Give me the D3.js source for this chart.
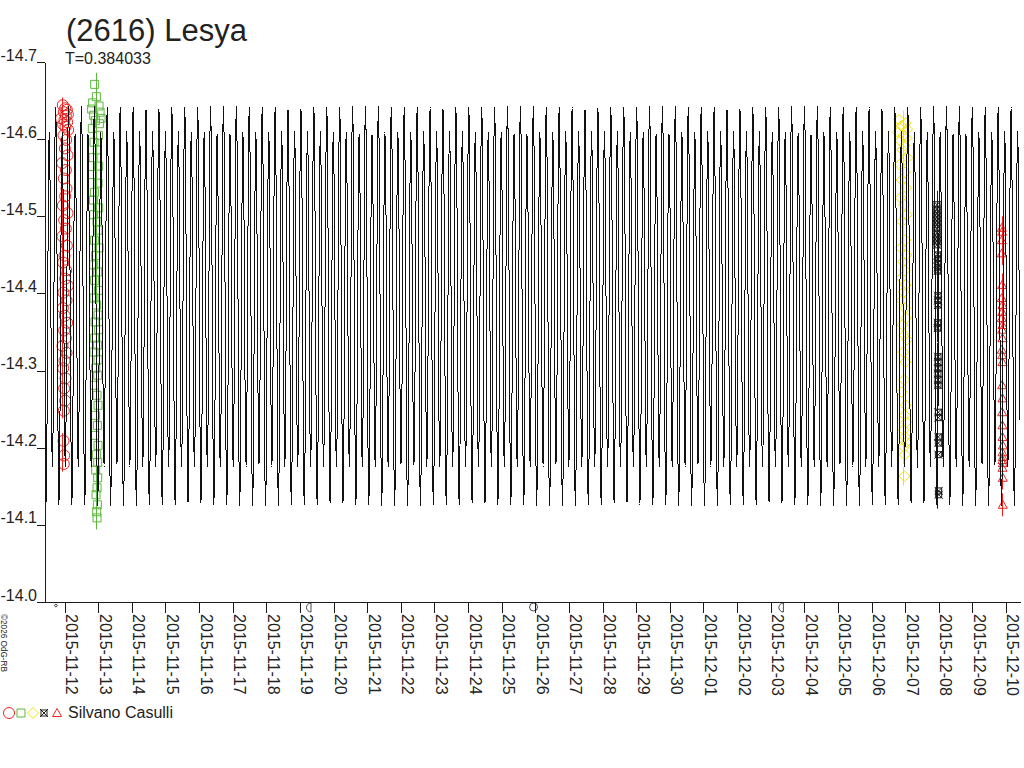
<!DOCTYPE html>
<html><head><meta charset="utf-8">
<script src="https://cdn.jsdelivr.net/npm/d3@7"></script>
<style>
body{margin:0;background:#fff}
svg{display:block}
text{font-family:"Liberation Sans",Arial,sans-serif;fill:#222}
</style>
</head><body>
<svg id="chart" width="1024" height="768"></svg>
<script>
// ---------------- data ----------------
const titleText = "(2616) Lesya";
const periodText = "T=0.384033";
const observerText = "Silvano Casulli";
const copyrightText = "\u00A92026 OdG-RB";

const PERIOD = 0.384033;                 // days
const EPOCH = "2015-11-19T00:44:00Z";    // time of the brighter maximum
const timeDomain = ["2015-11-11T10:00:00Z", "2015-12-10T10:00:00Z"];

// magnitude of the fitted lightcurve over one rotation (24 steps of phase)
const phaseMag = [-14.642,-14.606,-14.515,-14.386,-14.258,-14.163,-14.125,-14.153,
                  -14.238,-14.358,-14.480,-14.572,-14.610,-14.585,-14.505,-14.394,
                  -14.282,-14.201,-14.175,-14.212,-14.302,-14.422,-14.540,-14.618];

const dateTicks = ["2015-11-12","2015-11-13","2015-11-14","2015-11-15","2015-11-16","2015-11-17",
  "2015-11-18","2015-11-19","2015-11-20","2015-11-21","2015-11-22","2015-11-23","2015-11-24",
  "2015-11-25","2015-11-26","2015-11-27","2015-11-28","2015-11-29","2015-11-30","2015-12-01",
  "2015-12-02","2015-12-03","2015-12-04","2015-12-05","2015-12-06","2015-12-07","2015-12-08",
  "2015-12-09","2015-12-10"];
const magTicks = [-14.7,-14.6,-14.5,-14.4,-14.3,-14.2,-14.1,-14.0];

const moonTimes = ["2015-11-11T17:47:00Z","2015-11-19T06:27:00Z","2015-11-25T22:44:00Z","2015-12-03T07:40:00Z"];
const moonPhases = ["new","first","full","last"];

// session 1 : red circles
const s1Time = "2015-11-11T22:00:00Z";
const s1Offset = [0.03,0.10,0.15,0.06,0.18,0.12,-0.02,0.08,0.16,0.04,
                  0.11,0.19,0.05,0.13,0.09,0.17,0.01,0.12,0.06,0.14,
                  0.10,0.03,0.17,0.07,0.12,0.02,0.15,0.08,0.04,0.13,
                  0.10,0.18,0.05,0.14,0.03,0.09,0.16,0.07,0.12,0.02,
                  0.14,0.08,0.04,0.11,0.07,0.10,0.06,0.05,0.07,0.06];
const s1Mag = [-14.644,-14.640,-14.638,-14.635,-14.632,-14.630,-14.627,-14.625,-14.622,-14.619,
               -14.616,-14.612,-14.605,-14.599,-14.588,-14.579,-14.569,-14.560,-14.549,-14.536,
               -14.526,-14.514,-14.504,-14.495,-14.484,-14.474,-14.462,-14.449,-14.440,-14.430,
               -14.419,-14.410,-14.401,-14.391,-14.381,-14.371,-14.362,-14.352,-14.342,-14.332,
               -14.323,-14.313,-14.303,-14.290,-14.277,-14.261,-14.248,-14.209,-14.190,-14.179];
const s1Err = 0.01;

// session 2 : green squares
const s2Time = "2015-11-12T22:40:00Z";
const s2Offset = [-0.05,0.00,-0.11,0.08,-0.14,0.11,-0.08,0.14,-0.03,0.09,
                  -0.12,0.06,-0.07,0.03,-0.10,0.07,-0.13,0.05,-0.06,-0.09,
                  0.07,-0.08,0.02,0.05,-0.06,0.08,-0.02,-0.08,0.04,-0.05,
                  0.06,-0.07,0.01,0.05,-0.04,0.07,-0.05,0.03,-0.07,0.05,
                  -0.02,0.04,-0.06,0.02,0.05,-0.03,0.03,-0.05,0.05,0.00,
                  0.04,-0.02,0.04,0.02,-0.01,0.03,0.01,0.02];
const s2Mag = [-14.671,-14.655,-14.647,-14.643,-14.639,-14.635,-14.631,-14.627,-14.624,-14.620,
               -14.614,-14.605,-14.596,-14.586,-14.576,-14.565,-14.554,-14.543,-14.531,-14.521,
               -14.511,-14.502,-14.493,-14.482,-14.469,-14.459,-14.449,-14.437,-14.428,-14.417,
               -14.404,-14.394,-14.385,-14.372,-14.363,-14.353,-14.342,-14.333,-14.324,-14.314,
               -14.303,-14.294,-14.281,-14.268,-14.255,-14.242,-14.229,-14.216,-14.203,-14.191,
               -14.181,-14.171,-14.161,-14.148,-14.139,-14.126,-14.117,-14.109];
const s2Err = 0.015;

// session 3 : yellow diamonds
const s3Time = "2015-12-06T22:30:00Z";
const s3Offset = [-0.12,0.08,-0.05,0.12,-0.15,0.02,0.10,-0.08,0.05,-0.02,
                  0.13,-0.10,0.06,-0.04,0.09,-0.07,0.03,0.11,-0.03,0.07,
                  -0.06,0.10,0.00,0.05,-0.05,0.08,0.02,-0.03,0.06,0.09,
                  -0.02,0.04,0.12,0.01,0.07,0.03,-0.04,0.08,0.05,0.10,
                  0.02,0.06,0.09,0.03,0.05,0.04];
const s3Mag = [-14.625,-14.621,-14.617,-14.613,-14.609,-14.605,-14.601,-14.598,-14.592,-14.586,
               -14.576,-14.567,-14.557,-14.547,-14.537,-14.524,-14.515,-14.502,-14.493,-14.469,
               -14.459,-14.450,-14.441,-14.430,-14.420,-14.411,-14.402,-14.391,-14.381,-14.368,
               -14.359,-14.346,-14.340,-14.324,-14.311,-14.288,-14.272,-14.255,-14.242,-14.233,
               -14.223,-14.214,-14.207,-14.201,-14.191,-14.163];
const s3Err = 0.012;

// session 4 : black crossed squares
const s4Time = "2015-12-07T22:45:00Z";
const s4Offset = [0,0,0,0,0,0,0,0,0,0,0,
                  0.02,0.02,0.02,0.02,0.02,0.03,0.03,0.03,0.02,0.02,
                  0.03,0.03,0.03,0.03,0.03,0.03,0.04,0.04,0.04,0.04,0.04,0.05,0.05];
const s4Mag = [-14.515,-14.509,-14.504,-14.499,-14.494,-14.489,-14.484,-14.478,-14.473,-14.468,-14.463,
               -14.450,-14.445,-14.439,-14.434,-14.429,-14.397,-14.391,-14.385,-14.362,-14.355,
               -14.318,-14.311,-14.303,-14.296,-14.288,-14.281,-14.246,-14.239,-14.214,-14.206,
               -14.191,-14.144,-14.139];
const s4Err = 0.018;

// session 5 : red triangles
const s5Time = "2015-12-09T21:00:00Z";
const s5Offset = [0,0.01,0,0,0.01,0,0.02,0.01,0,0.02,
                  0.01,0.02,0,0.01,0.02,0.01,0.02,0.01,0.02,0.02,
                  0.03,0.02,0.03,0.02,0.03,0.02,0.03,0.03];
const s5Mag = [-14.485,-14.480,-14.469,-14.452,-14.411,-14.394,-14.385,-14.376,-14.368,-14.359,
               -14.353,-14.342,-14.327,-14.320,-14.311,-14.281,-14.264,-14.246,-14.229,-14.214,
               -14.203,-14.194,-14.188,-14.184,-14.180,-14.174,-14.161,-14.126];
const s5Err = 0.015;

// ---------------- drawing ----------------
const DAY = 86400000;
const svg = d3.select("#chart");
const x = d3.scaleUtc().domain(timeDomain.map(d => new Date(d))).range([45, 1020]);
const y = d3.scaleLinear().domain([-14.7, -14.0]).range([62, 602]);

const RED = "#ee2222", GREEN = "#5cb83c", YELLOW = "#f2e400", BLACK = "#1a1a1a";

// symbol generators (centered at 0,0)
function circleSym(p){ p.moveTo(5.5,0); p.arc(0,0,5.5,0,2*Math.PI); }
function squareSym(p){ p.rect(-4,-4,8,8); }
function diamondSym(p){ p.moveTo(0,-5.5); p.lineTo(5.5,0); p.lineTo(0,5.5); p.lineTo(-5.5,0); p.closePath(); }
function crossSym(p){ p.rect(-3,-3,6,6); p.moveTo(-4,-4); p.lineTo(4,4); p.moveTo(4,-4); p.lineTo(-4,4); }
function triangleSym(p){ p.moveTo(0,-4.5); p.lineTo(4.5,3.5); p.lineTo(-4.5,3.5); p.closePath(); }
function symPath(fn){ const p = d3.path(); fn(p); return p.toString(); }

// axes
const fmtLocale = d3.formatLocale({decimal:".", thousands:",", grouping:[3], currency:["",""], minus:"-"});
const yAxis = d3.axisLeft(y).tickValues(magTicks).tickSize(8).tickSizeOuter(0).tickFormat(fmtLocale.format(".1f"));
const gy = svg.append("g").attr("transform","translate(45,0)").call(yAxis);
gy.attr("font-size",16).attr("font-family",null);
gy.selectAll("path,line").attr("stroke",BLACK).attr("shape-rendering","crispEdges");
gy.selectAll("text").attr("x",-8).attr("dy",-2).attr("fill","#222");

const xAxis = d3.axisBottom(x).tickValues(dateTicks.map(d => new Date(d+"T00:00:00Z")))
  .tickSize(11).tickSizeOuter(0).tickFormat(d3.utcFormat("%Y-%m-%d"));
const gx = svg.append("g").attr("transform","translate(0,602)").call(xAxis);
gx.attr("font-size",16).attr("font-family",null);
gx.selectAll("path,line").attr("stroke",BLACK).attr("shape-rendering","crispEdges");
gx.selectAll("text").attr("transform","rotate(90)").attr("x",12).attr("y",-1).attr("dy",0)
  .style("text-anchor","start").attr("fill","#222");
svg.append("line").attr("x1",37).attr("x2",45).attr("y1",602.5).attr("y2",602.5)
  .attr("stroke",BLACK).attr("shape-rendering","crispEdges");

// moon phases on the time axis
const moonG = svg.append("g").attr("fill","none").attr("stroke",BLACK).attr("stroke-width",0.8);
d3.zip(moonTimes, moonPhases).forEach(([t, ph]) => {
  const cx = x(new Date(t));
  if (ph === "new") moonG.append("circle").attr("cx",cx).attr("cy",605.5).attr("r",1.3);
  else if (ph === "full") moonG.append("circle").attr("cx",cx).attr("cy",607).attr("r",4);
  else {
    const p = d3.path(); p.moveTo(cx+2,603); p.arc(cx+2,607.5,4.5,-Math.PI/2,Math.PI/2,true); p.closePath();
    moonG.append("path").attr("d",p.toString());
  }
});

// observation sessions
function drawSession(tRef, offsets, mags, err, color, fn){
  const t0 = new Date(tRef).getTime();
  const g = svg.append("g").attr("fill","none").attr("stroke",color).attr("stroke-width",1);
  const pts = d3.zip(offsets, mags).map(([o,m]) => ({t:new Date(t0 + o*DAY), m}));
  const xe = Math.round(x(new Date(t0))) + 0.5;
  g.selectAll("line.err").data(pts).join("line").attr("class","err")
    .attr("x1",xe).attr("x2",xe).attr("y1",d => y(d.m - err)).attr("y2",d => y(d.m + err));
  const sp = symPath(fn);
  g.selectAll("path.sym").data(pts).join("path").attr("class","sym").attr("d",sp)
    .attr("transform",d => `translate(${x(d.t)},${y(d.m)})`);
}
drawSession(s1Time, s1Offset, s1Mag, s1Err, RED, circleSym);
drawSession(s2Time, s2Offset, s2Mag, s2Err, GREEN, squareSym);
drawSession(s3Time, s3Offset, s3Mag, s3Err, YELLOW, diamondSym);
drawSession(s4Time, s4Offset, s4Mag, s4Err, BLACK, crossSym);
drawSession(s5Time, s5Offset, s5Mag, s5Err, RED, triangleSym);

// lightcurve model repeated over the time span
const ep = new Date(EPOCH).getTime();
const [tA, tB] = x.domain().map(d => d.getTime());
const kStart = Math.floor((tA - ep)/(PERIOD*DAY)) - 1, kEnd = Math.ceil((tB - ep)/(PERIOD*DAY)) + 1;
const curvePts = [];
for (let k = kStart; k <= kEnd; k++) {
  phaseMag.forEach((m, j) => curvePts.push({t: new Date(ep + (k + j/phaseMag.length)*PERIOD*DAY), m}));
}
svg.append("clipPath").attr("id","clip").append("rect").attr("x",45).attr("y",0).attr("width",975).attr("height",602);
svg.append("path").datum(curvePts).attr("clip-path","url(#clip)")
  .attr("fill","none").attr("stroke","#111").attr("stroke-width",1)
  .attr("shape-rendering","crispEdges")
  .attr("d", d3.line().x(d => x(d.t)).y(d => y(d.m)).curve(d3.curveCatmullRom));

// texts
svg.append("text").attr("x",66).attr("y",41).attr("font-size",31).text(titleText);
svg.append("text").attr("x",65).attr("y",64).attr("font-size",16).text(periodText);
svg.append("text").attr("transform","translate(1,614) rotate(90)").attr("font-size",9)
  .attr("textLength",58).attr("lengthAdjust","spacingAndGlyphs").text(copyrightText);

// legend
const legSyms = [[circleSym,RED,9],[squareSym,GREEN,21],[diamondSym,YELLOW,33],[crossSym,BLACK,44],[triangleSym,RED,57]];
legSyms.forEach(([fn,c,lx]) => {
  svg.append("path").attr("d",symPath(fn)).attr("transform",`translate(${lx},713)`)
    .attr("fill","none").attr("stroke",c).attr("stroke-width",1);
});
svg.append("text").attr("x",68).attr("y",718).attr("font-size",16).text(observerText);
</script>
</body></html>
